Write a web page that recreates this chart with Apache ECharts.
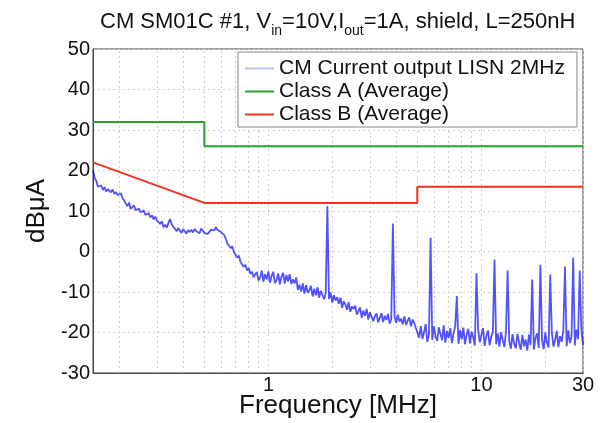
<!DOCTYPE html>
<html>
<head>
<meta charset="utf-8">
<script src="https://cdn.jsdelivr.net/npm/echarts@6/dist/echarts.min.js"></script>
<style>
  html, body { margin: 0; padding: 0; background: #fff; }
  #chart { width: 600px; height: 423px; }
</style>
</head>
<body>
<div id="chart"></div>
<script>
// measured sweep, log spaced from sweepStart to sweepStop (MHz)
var sweepStart = 0.15;
var sweepStop = 30;
var noiseDb = [
	20.0, 18.2, 17.4, 16.0, 15.7, 16.3, 15.2, 15.9, 14.8, 15.4,
	15.0, 14.6, 15.3, 14.2, 14.7, 13.9, 13.7, 14.4, 13.2, 12.6,
	11.8, 11.2, 12.1, 10.5, 10.9, 11.4, 10.2, 9.8, 10.6, 9.7,
	9.3, 10.1, 9.0, 8.8, 9.5, 8.4, 8.9, 7.9, 8.6, 7.6,
	7.2, 6.8, 7.5, 6.0, 6.6, 5.9, 7.0, 8.0, 6.8, 6.1,
	5.6, 5.0, 5.8, 5.1, 4.6, 5.5, 5.0, 4.4, 5.3, 4.8,
	5.4, 4.7, 5.6, 5.0, 5.2, 4.5, 5.7, 5.1, 4.6, 4.9,
	4.3, 4.9, 5.4, 5.8, 5.2, 6.0, 5.3, 5.7, 4.8, 5.0,
	4.1, 3.2, 2.0, 1.4, 0.8, 1.3, -0.2, -0.8, -1.5, -1.0,
	-2.6, -3.0, -3.8, -3.3, -4.7, -4.1, -5.5, -5.0, -6.4, -5.6,
	-5.1, -7.2, -6.4, -4.7, -7.5, -5.6, -6.9, -4.9, -7.7, -6.0,
	-5.0, -7.8, -7.1, -5.4, -8.1, -6.2, -5.3, -7.9, -5.8, -7.4,
	-5.6, -8.0, -6.9, -7.9, -6.4, -9.5, -8.2, -9.9, -7.9, -10.4,
	-8.3, -10.2, -9.6, -8.5, -11.1, -9.2, -10.8, -8.8, -11.4, -9.7,
	-9.6, -11.8, -10.4, 11.2, -11.7, -10.1, -12.6, -10.8, -12.1, -11.3,
	-12.9, -11.4, -13.9, -12.3, -13.1, -14.4, -12.5, -14.9, -13.6, -14.2,
	-13.4, -15.6, -14.7, -13.8, -16.4, -14.6, -15.9, -14.2, -16.8, -15.0,
	-15.1, -17.2, -16.0, -15.3, -17.5, -16.4, -15.2, -17.4, -15.9, -16.9,
	-15.4, -17.8, -16.7, 6.9, -16.1, -17.6, -15.6, -17.3, -16.6, -18.0,
	-16.0, -18.2, -17.1, -16.3, -18.5, -16.8, -17.6, -18.9, -19.2, -21.3,
	-18.4, -21.6, -19.9, -17.9, -22.3, -20.4, 3.4, -21.8, -18.5, -20.9,
	-22.1, -18.7, -20.3, -21.9, -18.2, -22.5, -19.6, -21.3, -18.9, -22.6,
	-20.1, -18.6, -11.0, -22.8, -19.4, -21.7, -18.8, -22.9, -20.5, -19.1,
	-22.7, -19.8, -21.2, -23.2, -5.4, -19.3, -22.4, -20.6, -18.9, -23.3,
	-20.8, -19.5, -23.1, -21.1, -19.7, -2.0, -22.9, -20.2, -23.5, -19.9,
	-21.8, -23.6, -19.8, -4.7, -22.2, -24.0, -20.4, -22.8, -23.9, -20.3,
	-22.5, -24.3, -20.6, -23.4, -21.7, -24.5, -20.5, -23.1, -6.9, -24.2,
	-21.4, -20.2, -23.8, -3.3, -21.9, -24.1, -20.0, -22.6, -23.7, -5.7,
	-20.1, -23.5, -21.8, -19.6, -23.6, -20.9, -22.3, -19.4, -3.7, -23.4,
	-19.5, -22.6, -21.0, -1.5, -23.2, -19.3, -21.6, -4.7, -19.0, -23.1
];

// limit lines (MHz, dBuA)
var classAFreq = [0.15, 0.5, 0.5, 30];
var classADb = [32, 32, 26, 26];
var classBFreq = [0.15, 0.5, 5, 5, 30];
var classBDb = [22, 12, 12, 16, 16];

var yTicks = [-30, -20, -10, 0, 10, 20, 30, 40, 50];
var xLabelFreqs = [1, 10, 30];
var minorGridFreqs = [0.2, 0.3, 0.4, 0.5, 0.6, 0.7, 0.8, 0.9, 2, 3, 4, 5, 6, 7, 8, 9, 20];

var seriesNames = ['CM Current output LISN 2MHz', 'Class A (Average)', 'Class B (Average)'];

function pairs(xs, ys) {
	var out = [];
	for (var i = 0; i < xs.length; i++) out.push([xs[i], ys[i]]);
	return out;
}

function sweepData() {
	var out = [];
	var n = noiseDb.length;
	for (var i = 0; i < n; i++) {
		var f = sweepStart * Math.pow(sweepStop / sweepStart, i / (n - 1));
		out.push([f, noiseDb[i]]);
	}
	return out;
}

var font = 'Liberation Sans, Arial, Helvetica, sans-serif';
var gridLine = { color: '#cfcfcf', width: 1, type: [2, 3] };

var chart = echarts.init(document.getElementById('chart'));
var option = {
	animation: false,
	title: {
		text: '{a|CM SM01C #1, V}{b|in}{a|=10V,I}{b|out}{a|=1A, shield, L=250nH}',
		left: 95,
		top: 6,
		textStyle: {
			fontWeight: 'normal',
			rich: {
				a: { fontSize: 22, fontWeight: 'normal', fontFamily: font, color: '#111', lineHeight: 24, verticalAlign: 'top' },
				b: { fontSize: 14, fontWeight: 'normal', fontFamily: font, color: '#111', lineHeight: 16, padding: [13, 0, 0, 0], verticalAlign: 'top' }
			}
		}
	},
	legend: {
		orient: 'vertical',
		left: 238,
		top: 52,
		icon: 'rect',
		itemWidth: 29,
		itemHeight: 2,
		itemGap: 0,
		padding: [5, 12, 1, 7],
		backgroundColor: '#fff',
		borderColor: '#888',
		borderWidth: 1,
		textStyle: { fontSize: 21, lineHeight: 23, fontFamily: font, color: '#111' },
		data: seriesNames
	},
	grid: {
		left: 93,
		right: 17,
		top: 49,
		bottom: 50,
		outerBoundsMode: 'none',
		show: true,
		borderColor: '#444',
		borderWidth: 1
	},
	xAxis: {
		type: 'log',
		logBase: 10,
		min: sweepStart,
		max: sweepStop,
		name: 'Frequency [MHz]',
		nameLocation: 'middle',
		nameGap: 20,
		nameMoveOverlap: false,
		nameTextStyle: { fontSize: 26, fontFamily: font, color: '#111' },
		axisLine: { onZero: false, lineStyle: { color: '#444', width: 1 } },
		axisTick: { show: false },
		axisLabel: {
			fontSize: 20,
			fontFamily: font,
			color: '#111',
			margin: 2,
			showMinLabel: false,
			formatter: function (v) {
				for (var i = 0; i < xLabelFreqs.length; i++) {
					if (Math.abs(v - xLabelFreqs[i]) < 1e-6 * xLabelFreqs[i]) return String(xLabelFreqs[i]);
				}
				return '';
			}
		},
		splitLine: { show: true, lineStyle: gridLine }
	},
	yAxis: {
		type: 'value',
		min: yTicks[0],
		max: yTicks[yTicks.length - 1],
		interval: 10,
		name: 'dBμA',
		nameLocation: 'middle',
		nameGap: 43,
		nameMoveOverlap: false,
		nameTextStyle: { fontSize: 26, fontFamily: font, color: '#111' },
		axisLine: { show: true, onZero: false, lineStyle: { color: '#444', width: 1 } },
		axisTick: { show: false },
		axisLabel: { fontSize: 20, fontFamily: font, color: '#111', margin: 3 },
		splitLine: { show: true, lineStyle: gridLine }
	},
	series: [
		{
			name: seriesNames[0],
			type: 'line',
			showSymbol: false,
			symbol: 'none',
			data: sweepData(),
			lineStyle: { color: 'rgba(0,0,255,0.68)', width: 1.8 },
			itemStyle: { color: '#bcc4ee' },
			z: 3,
			markLine: {
				silent: true,
				symbol: 'none',
				label: { show: false },
				lineStyle: gridLine,
				data: minorGridFreqs.map(function (f) { return { xAxis: f }; }),
				z: 1
			}
		},
		{
			name: seriesNames[1],
			type: 'line',
			showSymbol: false,
			symbol: 'none',
			data: pairs(classAFreq, classADb),
			lineStyle: { color: '#2ea02e', width: 2 },
			itemStyle: { color: '#2ea02e' },
			z: 4
		},
		{
			name: seriesNames[2],
			type: 'line',
			showSymbol: false,
			symbol: 'none',
			data: pairs(classBFreq, classBDb),
			lineStyle: { color: '#f0321e', width: 2 },
			itemStyle: { color: '#f0321e' },
			z: 4
		}
	]
};
chart.setOption(option);
</script>
</body>
</html>
